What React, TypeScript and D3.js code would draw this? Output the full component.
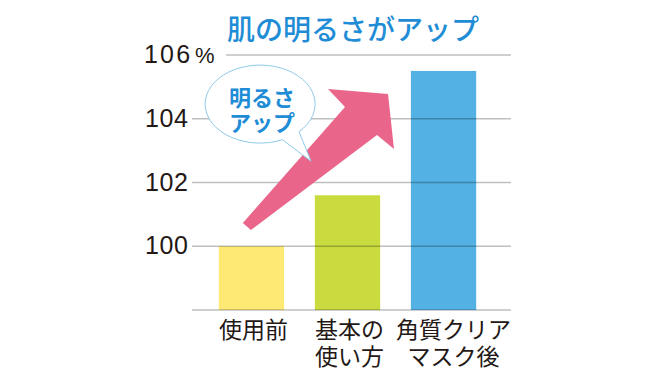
import React from "react";
import * as d3 from "d3";

const categories = ["使用前", "基本の\n使い方", "角質クリア\nマスク後"];
const values = [100, 101.6, 105.5];
const barColors = ["#fde974", "#cadb3f", "#53b1e4"];
const yTicks = [100, 102, 104, 106];
const title = "肌の明るさがアップ";
const bubbleLines = ["明るさ", "アップ"];
// arrow outline in data space: [category index position, value]
const arrowPoints: [number, number][] = [
  [-0.09, 100.73],
  [0.974, 104.37],
  [0.797, 104.93],
  [1.422, 104.78],
  [1.484, 103.05],
  [1.307, 103.49],
  [-0.005, 100.51],
];
// bubble centre [index position, value], tail tip
const bubbleCenter: [number, number] = [0.09, 104.46];
const bubbleTip: [number, number] = [0.62, 102.67];

export default function App() {
  const W = 660;
  const H = 379;
  const y = d3.scaleLinear().domain([98, 106]).range([310, 55]);
  const x = d3
    .scaleBand<string>()
    .domain(categories)
    .range([190, 505])
    .paddingInner(0.32)
    .paddingOuter(0.3);
  const bw = x.bandwidth();
  const cx = (c: string) => (x(c) as number) + bw / 2;
  const xi = d3
    .scaleLinear()
    .domain([0, 2])
    .range([cx(categories[0]), cx(categories[2])]);

  const gridLeft = 192;
  const gridRight = 511;
  const jp = "'Noto Sans CJK JP', 'Noto Sans', sans-serif";
  const num = "'Liberation Sans', Arial, sans-serif";

  const arrowPath =
    d3.line()(arrowPoints.map(([i, v]) => [xi(i), y(v)] as [number, number])) + "Z";

  const bcx = xi(bubbleCenter[0]);
  const bcy = y(bubbleCenter[1]);
  const rx = 55;
  const ry = 39;
  const a1 = (45 * Math.PI) / 180;
  const a2 = (66 * Math.PI) / 180;
  const B = [bcx + rx * Math.cos(a1), bcy + ry * Math.sin(a1)];
  const A = [bcx + rx * Math.cos(a2), bcy + ry * Math.sin(a2)];
  const tip = [xi(bubbleTip[0]), y(bubbleTip[1])];
  const bubblePath = `M${B[0]},${B[1]} A${rx},${ry} 0 1 0 ${A[0]},${A[1]} L${tip[0]},${tip[1]} Z`;
  const top = yTicks[yTicks.length - 1];

  return (
    <svg
      width={W}
      height={H}
      style={{ position: "absolute", left: 0, top: 0, background: "#fff" }}
    >
      <rect width={W} height={H} fill="#fff" />
      <text
        x={353}
        y={40}
        textAnchor="middle"
        fontFamily={jp}
        fontWeight={500}
        fontSize={28}
        fill="#1f8dd6"
      >
        {title}
      </text>

      {categories.map((c, i) => (
        <rect
          key={c}
          x={x(c)}
          y={y(values[i])}
          width={bw}
          height={y(98) - y(values[i])}
          fill={barColors[i]}
        />
      ))}

      {yTicks.map((t) => (
        <line
          key={t}
          x1={t === top ? 226 : gridLeft}
          x2={gridRight}
          y1={y(t)}
          y2={y(t)}
          stroke="#000"
          strokeOpacity={0.25}
          strokeWidth={1.3}
        />
      ))}
      <line
        x1={gridLeft}
        x2={gridRight}
        y1={y(98)}
        y2={y(98)}
        stroke="#000"
        strokeOpacity={0.25}
        strokeWidth={1.3}
      />

      {yTicks.map((t) => (
        <text
          key={t}
          x={t === top ? 144 : 145}
          y={y(t) + 8}
          fontFamily={num}
          fontSize={25}
          letterSpacing={t === top ? 2.2 : 0.6}
          fill="#231815"
        >
          {t}
        </text>
      ))}
      <text x={195} y={y(top) + 8} fontFamily={num} fontSize={22} fill="#231815">
        %
      </text>

      <path d={arrowPath} fill="#e9668a" />

      <path d={bubblePath} fill="#fff" stroke="#8fcbea" strokeWidth={1} />
      <text
        textAnchor="middle"
        fontFamily={jp}
        fontWeight={700}
        fontSize={22}
        fill="#1f8dd6"
      >
        {bubbleLines.map((l, i) => (
          <tspan key={l} x={bcx + 2} y={bcy + 2 + i * 25}>
            {l}
          </tspan>
        ))}
      </text>

      {categories.map((c) => {
        const lines = c.split("\n");
        const lx = cx(c) + (lines[0].length > 3 ? 10 : 2);
        return (
          <text
            key={c}
            textAnchor="middle"
            fontFamily={jp}
            fontSize={23}
            fill="#231815"
          >
            {lines.map((line, j) => (
              <tspan key={j} x={lx} y={338 + j * 26.5}>
                {line}
              </tspan>
            ))}
          </text>
        );
      })}
    </svg>
  );
}
